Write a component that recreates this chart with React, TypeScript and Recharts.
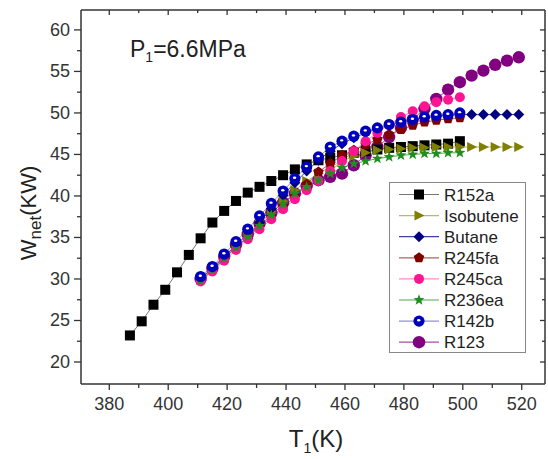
import React from 'react';
import { LineChart, Line, XAxis, YAxis, Legend } from 'recharts';

// temperatures (K)
const tR152a = [387, 391, 395, 399, 403, 407, 411, 415, 419, 423, 427, 431, 435, 439, 443, 447, 451, 455, 459, 463, 467, 471, 475, 479, 483, 487, 491, 495, 499];
const tMain = [411, 415, 419, 423, 427, 431, 435, 439, 443, 447, 451, 455, 459, 463, 467, 471, 475, 479, 483, 487, 491, 495, 499];
const tLong = [411, 415, 419, 423, 427, 431, 435, 439, 443, 447, 451, 455, 459, 463, 467, 471, 475, 479, 483, 487, 491, 495, 499, 503, 507, 511, 515, 519];

// net power (kW)
const wR152a = [23.2, 24.9, 26.9, 28.7, 30.8, 32.9, 34.9, 36.8, 38.2, 39.4, 40.4, 41.1, 41.8, 42.5, 43.2, 43.8, 44.3, 44.6, 44.9, 45.2, 45.4, 45.6, 45.8, 45.9, 46.0, 46.1, 46.2, 46.3, 46.6];
const wIsobutene = [29.9, 31.2, 32.6, 34.0, 35.3, 36.7, 38.1, 39.4, 40.7, 41.8, 42.7, 43.5, 44.2, 44.8, 45.2, 45.5, 45.6, 45.7, 45.8, 45.8, 45.9, 45.9, 45.9, 45.9, 45.9, 45.9, 45.9, 45.9];
const wButane = [30.1, 31.3, 32.7, 34.0, 34.9, 36.8, 38.5, 40.1, 41.6, 43.0, 44.3, 45.4, 46.3, 47.0, 47.6, 48.1, 48.5, 48.9, 49.2, 49.4, 49.6, 49.7, 49.8, 49.8, 49.8, 49.8, 49.8, 49.8];
const wR245fa = [29.8, 31.0, 32.4, 33.8, 35.0, 36.3, 37.4, 38.7, 39.9, 41.4, 42.9, 43.9, 44.9, 45.5, 46.2, 46.8, 47.4, 48.0, 48.5, 48.9, 49.1, 49.3, 49.4];
const wR245ca = [29.7, 30.9, 32.2, 33.5, 34.8, 36.0, 37.2, 38.4, 39.6, 40.7, 41.8, 43.0, 44.2, 45.4, 46.6, 47.6, 48.6, 49.5, 50.2, 50.8, 51.3, 51.6, 51.9];
const wR236ea = [29.8, 31.1, 32.5, 33.8, 35.1, 36.4, 37.7, 39.0, 40.3, 41.1, 41.9, 42.7, 43.4, 43.9, 44.2, 44.5, 44.7, 44.9, 45.0, 45.1, 45.1, 45.2, 45.2];
const wR142b = [30.3, 31.5, 33.0, 34.5, 36.0, 37.6, 39.1, 40.6, 42.1, 43.5, 44.7, 45.9, 46.6, 47.2, 47.8, 48.2, 48.6, 48.9, 49.2, 49.5, 49.7, 49.8, 50.0];
const wR123 = [30.0, 31.3, 32.7, 34.1, 35.4, 36.7, 38.0, 39.2, 40.3, 41.2, 41.9, 42.3, 42.7, 43.7, 44.9, 45.9, 47.1, 48.2, 49.2, 50.5, 51.7, 52.8, 53.7, 54.5, 55.1, 55.8, 56.3, 56.7];

const xTicks = [380, 390, 400, 410, 420, 430, 440, 450, 460, 470, 480, 490, 500, 510, 520];
const yTicks = [20, 22.5, 25, 27.5, 30, 32.5, 35, 37.5, 40, 42.5, 45, 47.5, 50, 52.5, 55, 57.5, 60];

const series = [
  { name: 'R152a', t: tR152a, w: wR152a, color: '#000000', line: '#777777', kind: 'square' },
  { name: 'Isobutene', t: tLong, w: wIsobutene, color: '#7f7f00', line: '#b8b870', kind: 'triangle' },
  { name: 'Butane', t: tLong, w: wButane, color: '#000080', line: '#4040a0', kind: 'diamond' },
  { name: 'R245fa', t: tMain, w: wR245fa, color: '#800000', line: '#b06060', kind: 'pentagon' },
  { name: 'R245ca', t: tMain, w: wR245ca, color: '#ff1493', line: '#ff88c8', kind: 'circle' },
  { name: 'R236ea', t: tMain, w: wR236ea, color: '#1e8f1e', line: '#50a850', kind: 'star' },
  { name: 'R142b', t: tMain, w: wR142b, color: '#0000bb', line: '#9090e0', kind: 'ball' },
  { name: 'R123', t: tLong, w: wR123, color: '#800080', line: '#a050a0', kind: 'big' },
];

// R123 goes underneath the others
const drawOrder = ['R123', 'R152a', 'Isobutene', 'Butane', 'R245fa', 'R245ca', 'R236ea', 'R142b'];

const AX = '#333333';
const FONT = '"Liberation Sans", Arial, sans-serif';

function polyPoints(cx: number, cy: number, n: number, rOut: number, rIn?: number) {
  const pts: string[] = [];
  const count = rIn ? n * 2 : n;
  for (let i = 0; i < count; i++) {
    const r = rIn && i % 2 === 1 ? rIn : rOut;
    const a = -Math.PI / 2 + (i * 2 * Math.PI) / count;
    pts.push(`${cx + r * Math.cos(a)},${cy + r * Math.sin(a)}`);
  }
  return pts.join(' ');
}

function Marker({ kind, cx, cy, color }: { kind: string; cx: number; cy: number; color: string }) {
  switch (kind) {
    case 'square':
      return <rect x={cx - 5} y={cy - 5} width={10} height={10} fill={color} />;
    case 'triangle':
      return <polygon points={`${cx - 4.5},${cy - 5} ${cx + 5.5},${cy} ${cx - 4.5},${cy + 5}`} fill={color} />;
    case 'diamond':
      return <polygon points={`${cx},${cy - 5.5} ${cx + 5.5},${cy} ${cx},${cy + 5.5} ${cx - 5.5},${cy}`} fill={color} />;
    case 'pentagon':
      return <polygon points={polyPoints(cx, cy, 5, 5.5)} fill={color} />;
    case 'star':
      return <polygon points={polyPoints(cx, cy, 5, 5.8, 2.4)} fill={color} />;
    case 'ball':
      return (
        <g>
          <circle cx={cx} cy={cy} r={5.6} fill={color} />
          <ellipse cx={cx - 0.3} cy={cy - 0.8} rx={1.7} ry={1.2} fill="#ffffff" />
        </g>
      );
    case 'big':
      return <circle cx={cx} cy={cy} r={6.2} fill={color} />;
    default:
      return <circle cx={cx} cy={cy} r={5} fill={color} />;
  }
}

const LeftTick = (p: any) => {
  const v = p.payload.value;
  const major = v % 5 === 0;
  return (
    <g>
      <line x1={p.x} x2={p.x - (major ? 7 : 4)} y1={p.y} y2={p.y} stroke={AX} strokeWidth={1.3} />
      {major && (
        <text x={p.x - 11} y={p.y} dy={6} textAnchor="end" fontSize={18} fill="#333" fontFamily={FONT}>
          {v}
        </text>
      )}
    </g>
  );
};

const RightTick = (p: any) => {
  const major = p.payload.value % 5 === 0;
  return <line x1={p.x} x2={p.x - (major ? 5 : 3)} y1={p.y} y2={p.y} stroke={AX} strokeWidth={1.3} />;
};

const BottomTick = (p: any) => {
  const v = p.payload.value;
  const major = v % 20 === 0;
  return (
    <g>
      <line x1={p.x} x2={p.x} y1={p.y} y2={p.y + (major ? 6 : 4)} stroke={AX} strokeWidth={1.3} />
      {major && (
        <text x={p.x} y={p.y} dy={26} textAnchor="middle" fontSize={18} fill="#333" fontFamily={FONT}>
          {v}
        </text>
      )}
    </g>
  );
};

const TopTick = (p: any) => {
  const major = p.payload.value % 20 === 0;
  return <line x1={p.x} x2={p.x} y1={p.y} y2={p.y + (major ? 5 : 3)} stroke={AX} strokeWidth={1.3} />;
};

const YTitle = () => (
  <text transform="translate(36,213) rotate(-90)" textAnchor="middle" fontFamily={FONT} fill="#222" fontSize={22}>
    W<tspan fontSize={17} dy={5}>net</tspan>
    <tspan dy={-5}>(KW)</tspan>
  </text>
);

const XTitle = () => (
  <text x={316} y={447} textAnchor="middle" fontFamily={FONT} fill="#222" fontSize={24}>
    T<tspan fontSize={14} dy={6}>1</tspan>
    <tspan dy={-6}>(K)</tspan>
  </text>
);

const Note = () => (
  <text x={130} y={57} fontFamily={FONT} fill="#222" fontSize={23}>
    P<tspan fontSize={14} dy={5}>1</tspan>
    <tspan dy={-5}>=6.6MPa</tspan>
  </text>
);

const LegendBox = () => (
  <svg width={137} height={171} style={{ display: 'block' }}>
    <rect x={0.5} y={0.5} width={136} height={170} fill="#fff" stroke="#888" strokeWidth={1} />
    {series.map((s, i) => {
      const y = 12.5 + i * 21.1;
      return (
        <g key={s.name}>
          <line x1={10} x2={50} y1={y} y2={y} stroke={s.line} strokeWidth={1.2} />
          <Marker kind={s.kind} cx={30} cy={y} color={s.color} />
          <text x={55} y={y} dy={6} fontSize={17} fill="#222" fontFamily={FONT}>
            {s.name}
          </text>
        </g>
      );
    })}
  </svg>
);

export default function App() {
  const ordered = drawOrder.map((n) => series.find((s) => s.name === n)!);
  return (
    <div style={{ position: 'absolute', left: 0, top: 0, width: 548, height: 459, background: '#fff', fontFamily: FONT }}>
      <LineChart width={548} height={459} margin={{ top: 9, right: 2, bottom: 0, left: 0 }}>
        <XAxis
          xAxisId="b"
          type="number"
          dataKey="T"
          domain={[370.4, 527.9]}
          ticks={xTicks}
          interval={0}
          allowDataOverflow
          height={75}
          tickSize={0}
          tickMargin={0}
          tick={BottomTick}
          axisLine={{ stroke: AX, strokeWidth: 1.5 }}
          label={<XTitle />}
        />
        <XAxis
          xAxisId="t"
          orientation="top"
          type="number"
          dataKey="T"
          domain={[370.4, 527.9]}
          ticks={xTicks}
          interval={0}
          allowDataOverflow
          height={1}
          tickSize={0}
          tickMargin={0}
          tick={TopTick}
          axisLine={{ stroke: AX, strokeWidth: 1.5 }}
          label={<Note />}
        />
        <YAxis
          yAxisId="l"
          type="number"
          domain={[17.35, 62.4]}
          ticks={yTicks}
          interval={0}
          allowDataOverflow
          width={81}
          tickSize={0}
          tickMargin={0}
          tick={LeftTick}
          axisLine={{ stroke: AX, strokeWidth: 1.5 }}
          label={<YTitle />}
        />
        <YAxis
          yAxisId="r"
          orientation="right"
          type="number"
          domain={[17.35, 62.4]}
          ticks={yTicks}
          interval={0}
          allowDataOverflow
          width={1}
          tickSize={0}
          tickMargin={0}
          tick={RightTick}
          axisLine={{ stroke: AX, strokeWidth: 1.5 }}
        />
        <Legend
          layout="vertical"
          align="center"
          verticalAlign="middle"
          wrapperStyle={{ position: 'absolute', left: 389, top: 182, width: 137, height: 171 }}
          content={() => <LegendBox />}
        />
        {ordered.map((s) => (
          <Line
            key={s.name}
            name={s.name}
            xAxisId="b"
            yAxisId="l"
            data={s.t.map((t, i) => ({ T: t, W: s.w[i] }))}
            dataKey="W"
            type="linear"
            stroke={s.line}
            strokeWidth={1}
            isAnimationActive={false}
            dot={(p: any) => <Marker key={`${s.name}-${p.index}`} kind={s.kind} cx={p.cx} cy={p.cy} color={s.color} />}
            activeDot={false}
          />
        ))}
      </LineChart>
    </div>
  );
}
